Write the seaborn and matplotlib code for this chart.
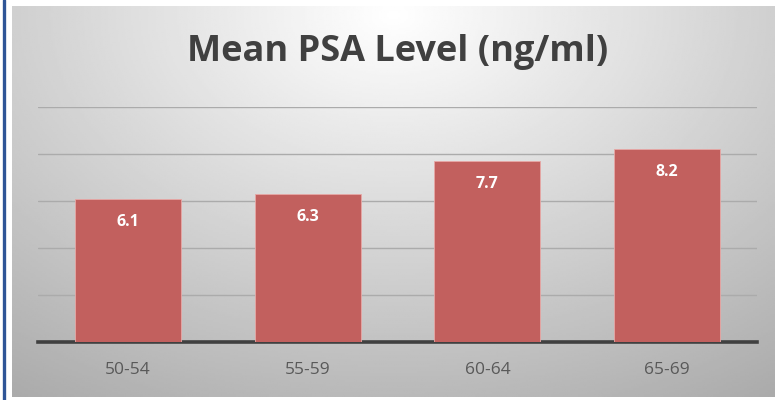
import numpy as np
import pandas as pd
import matplotlib
matplotlib.use('Agg')
import matplotlib.pyplot as plt
import seaborn as sns

# data
age_groups = ['50-54', '55-59', '60-64', '65-69']
mean_psa = [6.1, 6.3, 7.7, 8.2]
y_ticks = [0, 2, 4, 6, 8, 10]

W, H = 775, 400
sns.set_style('white')
plt.rcParams['font.family'] = ['Open Sans', 'DejaVu Sans']

fig = plt.figure(figsize=(W / 100, H / 100), dpi=100)
fig.patch.set_facecolor('white')

# radial gray gradient background
bg = fig.add_axes([12 / W, 3 / H, (W - 12) / W, (H - 9) / H])
bg.set_axis_off()
yy, xx = np.mgrid[0:1:200j, 0:1:400j]
r = np.sqrt(((xx - 0.5) / 0.75) ** 2 + ((yy - 0.02) / 1.0) ** 2)
shade = np.clip(1.0 - 0.28 * r, 0, 1)
bg.imshow(shade, cmap='gray', vmin=0, vmax=1, aspect='auto',
          extent=[0, 1, 0, 1], origin='upper')

# blue frame line on the left
fig.add_artist(plt.Line2D([3.5 / W, 3.5 / W], [0, 1], color='#2F5597',
                          lw=2.4, transform=fig.transFigure))

df = pd.DataFrame({'age': age_groups, 'psa': mean_psa})
ax = fig.add_axes([38 / W, 1 - 342 / H, (757 - 38) / W, (342 - 107) / H])
ax.patch.set_alpha(0)
sns.barplot(data=df, x='age', y='psa', color='#C2605E', width=0.59,
            saturation=1, edgecolor='#E8A8A6', linewidth=0.6, ax=ax, zorder=3)

ax.set_ylim(0, 10)
ax.set_yticks(y_ticks)
ax.yaxis.grid(True, color='#ABABAB', lw=1, zorder=0)
ax.set_axisbelow(True)
ax.tick_params(axis='y', left=False, labelleft=False)
ax.tick_params(axis='x', bottom=False, labelsize=12.5, labelcolor='#595959', pad=11)
for s in ['left', 'right', 'top']:
    ax.spines[s].set_visible(False)
ax.spines['bottom'].set_color('#404040')
ax.spines['bottom'].set_linewidth(2.6)
ax.set_xlabel('')
ax.set_ylabel('')

for i, v in enumerate(mean_psa):
    ax.annotate(f'{v}', (i, v), xytext=(0, -23), textcoords='offset pixels',
                ha='center', va='center', color='white', fontsize=11.5,
                fontweight='bold', zorder=5)

fig.text(397.5 / W, 1 - 52 / H, 'Mean PSA Level (ng/ml)', ha='center',
         va='center', fontsize=26, fontweight='bold', color='#404040')

fig.savefig('out.png', dpi=100)
